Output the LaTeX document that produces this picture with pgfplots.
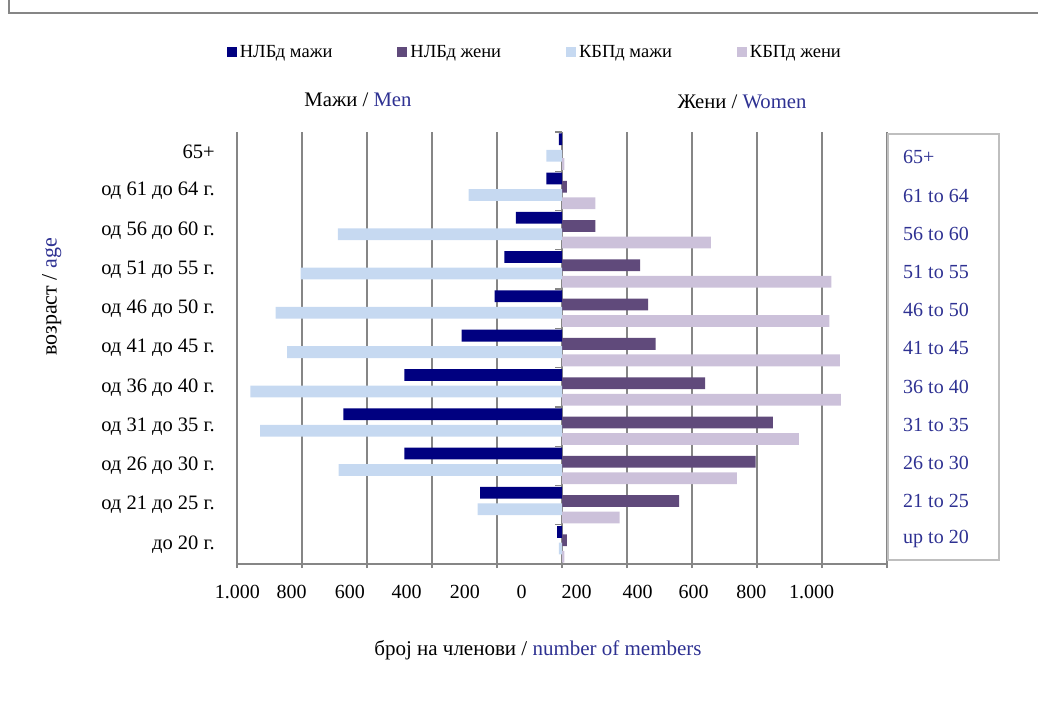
\documentclass[border=0pt]{standalone}
\usepackage{fontspec}
\setmainfont{Liberation Serif}
\usepackage{pgfplots}
\usepackage{pgfplotstable}
\pgfplotsset{compat=1.18}
\definecolor{cNavy}{RGB}{0,0,128}
\definecolor{cPurple}{RGB}{96,74,123}
\definecolor{cLBlue}{RGB}{198,217,241}
\definecolor{cLPurple}{RGB}{204,193,218}
\definecolor{cEng}{RGB}{46,49,146}
\definecolor{cGrid}{RGB}{134,134,134}
\definecolor{cBox}{RGB}{191,191,191}
\pgfplotstableread{
y nlbm nlbz kbpm kbpz
0 -15 15 -10 7
1 -252 360 -260 177
2 -485 596 -687 538
3 -673 649 -929 729
4 -485 440 -959 858
5 -309 288 -846 855
6 -207 265 -881 823
7 -177 240 -804 829
8 -142 103 -690 458
9 -48 15 -287 103
10 -10 0 -48 7
}\data
\newcommand{\fs}{\fontsize{20}{23}\selectfont}
\begin{document}
\begin{tikzpicture}
\useasboundingbox (0pt,0pt) rectangle (1038pt,707pt);
\draw[cGrid, line width=2pt] (8.7pt,707pt) -- (8.7pt,694.3pt) -- (1038pt,694.3pt);
\begin{axis}[
  at={(237pt,143pt)}, anchor=south west,
  scale only axis, width=650pt, height=432pt,
  xbar, bar width=0.30,
  xmin=-1000, xmax=1000, ymin=-0.5, ymax=10.5,
  axis x line*=bottom, axis y line*=left,
  axis line style={cGrid, line width=1.2pt, -},
  xtick={-1000,-800,...,1000}, xticklabels={,,,,,,,,,,},
  xmajorgrids, grid style={cGrid, line width=1.2pt},
  tick align=outside, major tick length=4pt,
  xtick style={cGrid, line width=1.2pt},
  extra x ticks={-999,-832,-653,-478,-299,-124,45,233,405,583,768},
  extra x tick labels={1.000,800,600,400,200,0,200,400,600,800,1.000},
  extra x tick style={major tick length=0pt, grid=none},
  xticklabel style={inner sep=0pt, anchor=north, yshift=-21pt, font=\fs},
  ytick={0,...,10},
  yticklabels={до 20 г., од 21 до 25 г., од 26 до 30 г., од 31 до 35 г., од 36 до 40 г., од 41 до 45 г., од 46 до 50 г., од 51 до 55 г., од 56 до 60 г., од 61 до 64 г., 65+},
  ytick style={draw=none},
  yticklabel style={inner sep=0pt, anchor=east, xshift=-18pt, font=\fontsize{20.5}{23}\selectfont},
  legend style={at={(0.459,1.185)}, anchor=center, draw=none, fill=none,
    legend columns=4, font=\fontsize{18.5}{22}\selectfont,
    /tikz/every even column/.append style={column sep=62pt},
    nodes={inner xsep=3pt}},
  legend image code/.code={\fill[#1] (0pt,-5pt) rectangle (10pt,5pt);},
]
\addplot[fill=cNavy, draw=none, bar shift=0.315] table[x=nlbm, y=y] {\data};
\addlegendentry{НЛБд мажи}
\addplot[fill=cPurple, draw=none, bar shift=0.105] table[x=nlbz, y=y] {\data};
\addlegendentry{НЛБд жени}
\addplot[fill=cLBlue, draw=none, bar shift=-0.105] table[x=kbpm, y=y] {\data};
\addlegendentry{КБПд мажи}
\addplot[fill=cLPurple, draw=none, bar shift=-0.315] table[x=kbpz, y=y] {\data};
\addlegendentry{КБПд жени}
\pgfplotsinvokeforeach{0,...,11}{
  \draw[cGrid, line width=1.2pt] (axis cs:0,#1-0.5) -- ++(-6.7pt,0pt);
}
\end{axis}
\node[font=\fontsize{20.7}{24}\selectfont] at (358pt,607pt) {Мажи / \textcolor{cEng}{Men}};
\node[font=\fontsize{20.7}{24}\selectfont] at (742pt,605pt) {Жени / \textcolor{cEng}{Women}};
\node[font=\fontsize{21}{24}\selectfont] at (538pt,57pt) {број на членови / \textcolor{cEng}{number of members}};
\node[font=\fontsize{22}{25}\selectfont, rotate=90] at (51.7pt,410pt) {возраст / \textcolor{cEng}{age}};
\draw[cBox, line width=1.5pt] (888pt,573pt) rectangle (999pt,147pt);
\foreach \t [count=\k from 0] in {65+, 61 to 64, 56 to 60, 51 to 55, 46 to 50, 41 to 45, 36 to 40, 31 to 35, 26 to 30, 21 to 25, up to 20}{
  \node[font=\fs, text=cEng, anchor=west, inner sep=0pt] at (903pt, {(707-157.3-38.2*\k)*1pt}) {\t};
}
\end{tikzpicture}
\end{document}
